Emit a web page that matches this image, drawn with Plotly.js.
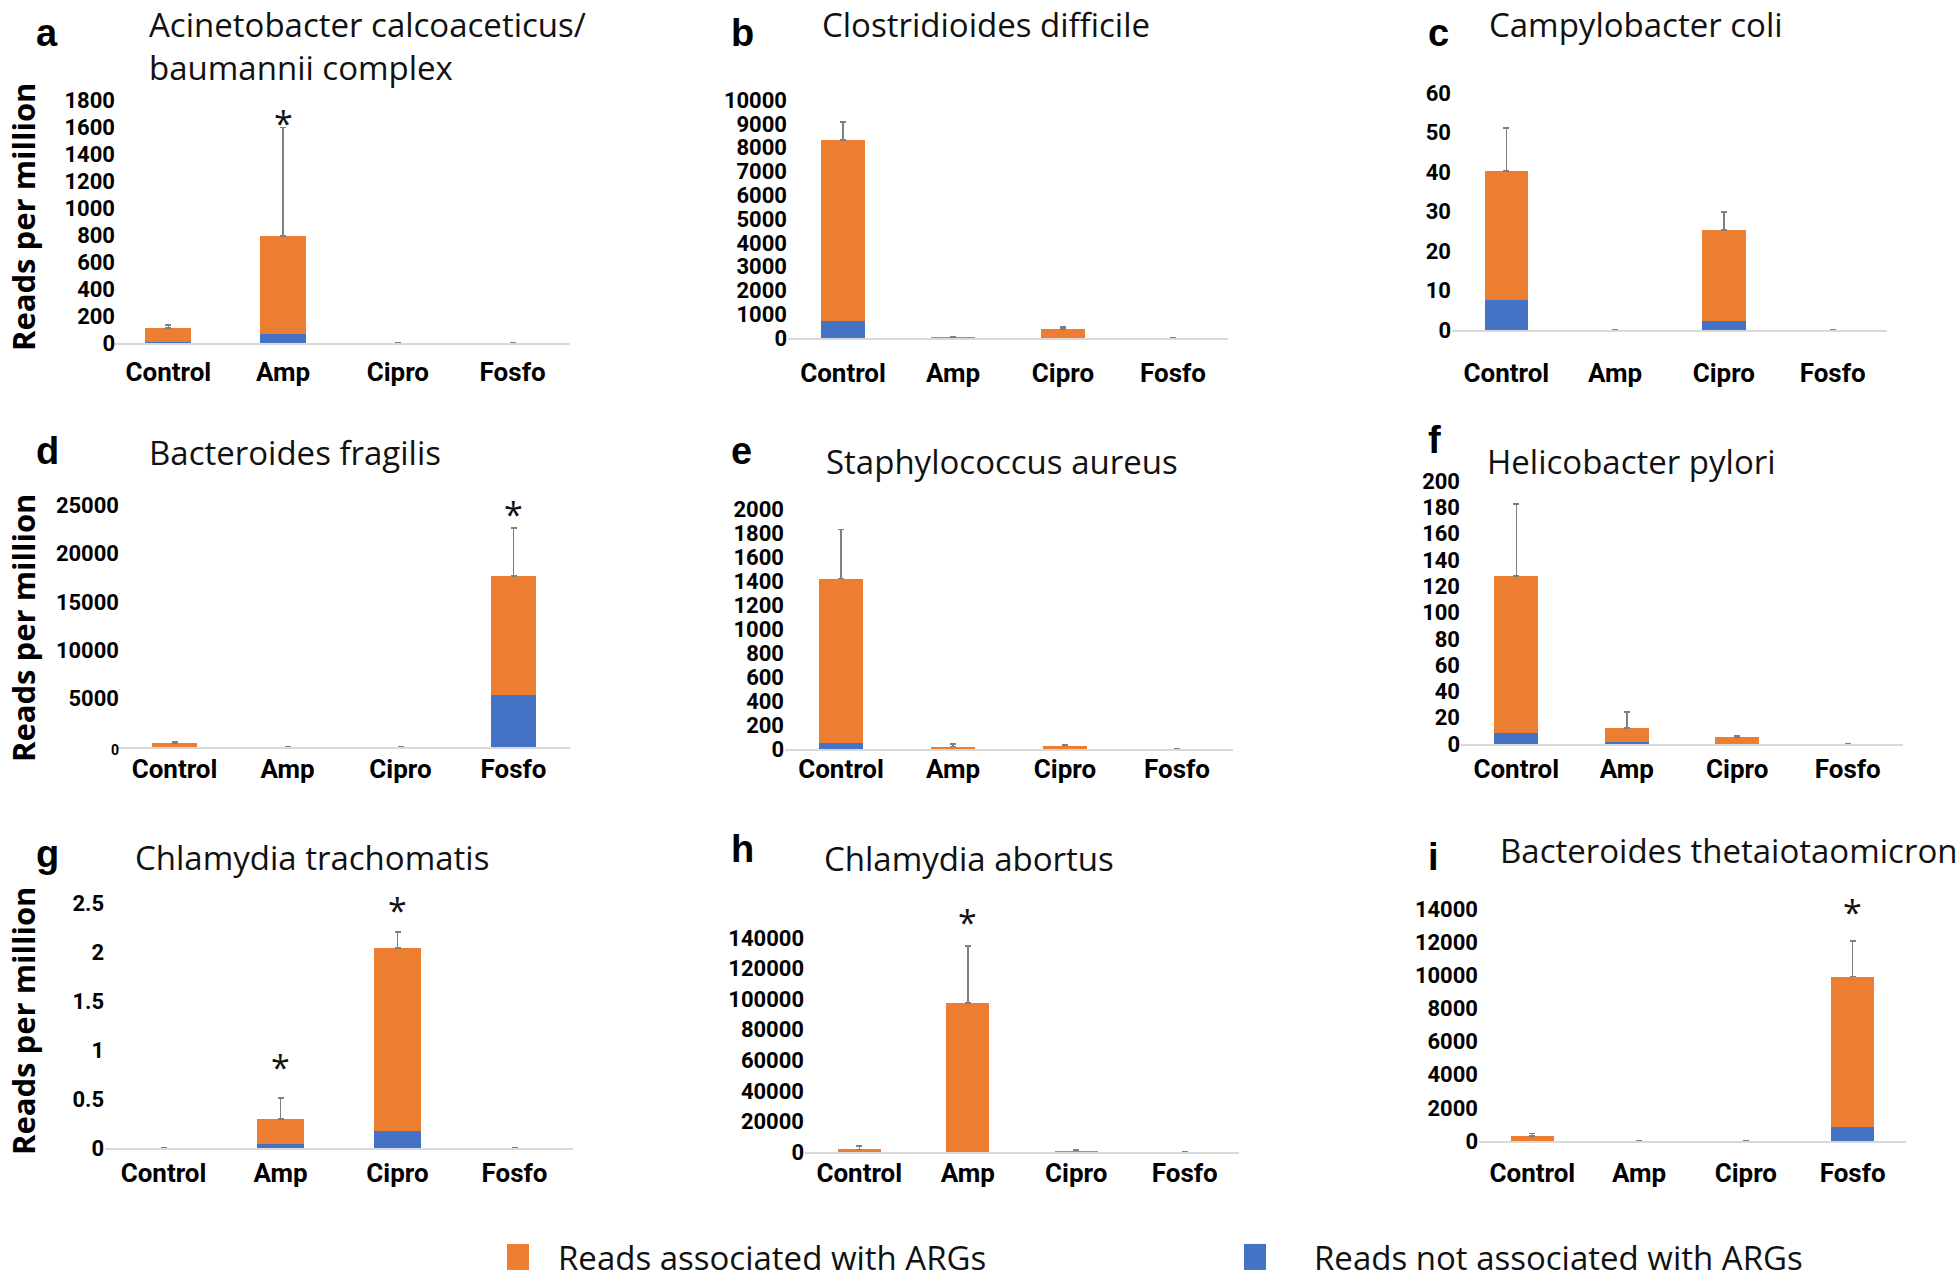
<!DOCTYPE html>
<html><head><meta charset="utf-8">
<script src="https://cdn.plot.ly/plotly-3.0.1.min.js"></script>
<style>html,body{margin:0;padding:0;background:#fff}#chart{width:1960px;height:1281px}</style>
</head><body><div id="chart"></div>
<script>
// ---------------- DATA ----------------
const categories = ['Control', 'Amp', 'Cipro', 'Fosfo'];
const panelLetters = ['a', 'b', 'c', 'd', 'e', 'f', 'g', 'h', 'i'];
const speciesNames = [
  'Acinetobacter calcoaceticus/<br>baumannii complex',
  'Clostridioides difficile',
  'Campylobacter coli',
  'Bacteroides fragilis',
  'Staphylococcus aureus',
  'Helicobacter pylori',
  'Chlamydia trachomatis',
  'Chlamydia abortus',
  'Bacteroides thetaiotaomicron'
];
const seriesNames = ['Reads associated with ARGs', 'Reads not associated with ARGs'];
const yAxisLabel = 'Reads per million';

// reads NOT associated with ARGs (blue, bottom segment)
const notARG_a = [5, 67, 0.5, 0.3];
const notARG_b = [714, 5, 20, 2];
const notARG_c = [7.6, 0, 2.3, 0];
const notARG_d = [20, 3, 2, 5372];
const notARG_e = [48, 2, 2, 0];
const notARG_f = [8.4, 1.5, 0.3, 0];
const notARG_g = [0.001, 0.041, 0.173, 0.001];
const notARG_h = [100, 200, 50, 10];
const notARG_i = [20, 3, 1, 841];

// reads associated with ARGs (orange, top segment)
const ARG_a = [108, 726, 1.5, 0.7];
const ARG_b = [7606, 30, 360, 8];
const ARG_c = [32.7, 0, 23, 0];
const ARG_d = [380, 17, 13, 12293];
const ARG_e = [1371, 18, 26, 0];
const ARG_f = [119.4, 10.7, 5, 0];
const ARG_g = [0.001, 0.255, 1.867, 0.001];
const ARG_h = [1666, 97276, 822, 40];
const ARG_i = [280, 27, 2, 9074];

// upper error (on total)
const err_a = [20, 802, 1, 0.5];
const err_b = [756, 30, 84, 5];
const err_c = [10.8, 0, 4.6, 0];
const err_d = [160, 10, 10, 4959];
const err_e = [412, 22, 6, 0];
const err_f = [54.7, 12.1, 0.8, 0];
const err_g = [0.002, 0.214, 0.163, 0.002];
const err_h = [2160, 37290, 430, 60];
const err_i = [163, 10, 2, 2163];

// significance markers (category names with *)
const sig_a = ['Amp'];
const sig_b = [];
const sig_c = [];
const sig_d = ['Fosfo'];
const sig_e = [];
const sig_f = [];
const sig_g = ['Amp', 'Cipro'];
const sig_h = ['Amp'];
const sig_i = ['Fosfo'];

// y axis tick settings
const yMax  = [1800, 10000, 60, 25000, 2000, 200, 2.5, 140000, 14000];
const yStep = [200, 1000, 10, 5000, 200, 20, 0.5, 20000, 2000];

// ---------------- LAYOUT CONFIG ----------------
const W = 1960, H = 1281;
const ORANGE = '#ED7D31', BLUE = '#4472C4', ERRC = '#7F7F7F';
const AXF = "Roboto, 'Liberation Sans', sans-serif";
const TITLEF = "'Open Sans', sans-serif";

const notARG = [notARG_a, notARG_b, notARG_c, notARG_d, notARG_e, notARG_f, notARG_g, notARG_h, notARG_i];
const ARG = [ARG_a, ARG_b, ARG_c, ARG_d, ARG_e, ARG_f, ARG_g, ARG_h, ARG_i];
const errs = [err_a, err_b, err_c, err_d, err_e, err_f, err_g, err_h, err_i];
const sigs = [sig_a, sig_b, sig_c, sig_d, sig_e, sig_f, sig_g, sig_h, sig_i];

// pixel geometry for each panel (plot area, label offsets, title anchors)
const geom = [
  {x0: 111, x1: 570, yT: 100, yB: 343, cat: 29, ys: -5, tx: 147, ty: null, lx: 34, lb: 45, star: [13]},
  {x0: 788, x1: 1228, yT: 100, yB: 338, cat: 35, ys: 0, tx: 820, ty: null, lx: 729, lb: 45, star: []},
  {x0: 1452, x1: 1887, yT: 93, yB: 330, cat: 43, ys: 0, tx: 1487, ty: null, lx: 1426, lb: 45, star: []},
  {x0: 118, x1: 570, yT: 505, yB: 747, cat: 22, ys: -2, tx: 147, ty: 453, lx: 34, lb: 463, star: [22]},
  {x0: 785, x1: 1233, yT: 509, yB: 749, cat: 20, ys: 0, tx: 824, ty: 462, lx: 729, lb: 463, star: []},
  {x0: 1461, x1: 1903, yT: 481, yB: 744, cat: 25, ys: 0, tx: 1485, ty: 462, lx: 1426, lb: 452, star: []},
  {x0: 105, x1: 573, yT: 903, yB: 1148, cat: 25, ys: 0, tx: 133, ty: 857, lx: 34, lb: 866, star: [39, 30]},
  {x0: 805, x1: 1239, yT: 938, yB: 1152, cat: 21, ys: 0, tx: 822, ty: 858, lx: 729, lb: 861, star: [32]},
  {x0: 1479, x1: 1906, yT: 909, yB: 1141, cat: 32, ys: 0, tx: 1498, ty: 850, lx: 1426, lb: 869, star: [37]}
];
const yTitleCenters = [217, 628, 1021];

const data = [];
const legendBase = {yanchor: 'middle', orientation: 'h', xanchor: 'left',
  font: {family: TITLEF, size: 33, color: '#111'}, bgcolor: 'rgba(0,0,0,0)', borderwidth: 0};
const layout = {
  width: W, height: H, autosize: false,
  margin: {l: 0, r: 0, t: 0, b: 0, autoexpand: false},
  paper_bgcolor: '#fff', plot_bgcolor: 'rgba(0,0,0,0)',
  barmode: 'stack', bargap: 0.6,
  showlegend: true,
  annotations: [],
  legend: Object.assign({}, legendBase, {x: 478 / W, y: 1 - 1257 / H, itemwidth: 70}),
  legend2: Object.assign({}, legendBase, {x: 1196 / W, y: 1 - 1257 / H, itemwidth: 108})
};

for (let p = 0; p < 9; p++) {
  const g = geom[p];
  const sfx = p === 0 ? '' : String(p + 1);
  const xa = 'x' + sfx, ya = 'y' + sfx;
  const totals = categories.map((c, i) => notARG[p][i] + ARG[p][i]);

  data.push({
    type: 'bar', x: categories, y: notARG[p], xaxis: xa, yaxis: ya,
    name: seriesNames[1], legend: 'legend2', showlegend: p === 0,
    marker: {color: BLUE, line: {width: 0}}, hoverinfo: 'y'
  });
  data.push({
    type: 'bar', x: categories, y: ARG[p], xaxis: xa, yaxis: ya,
    name: seriesNames[0], legend: 'legend', showlegend: p === 0,
    marker: {color: ORANGE, line: {width: 0}}, hoverinfo: 'y',
    error_y: {type: 'data', symmetric: false, array: errs[p], arrayminus: errs[p].map(() => 0),
              color: ERRC, thickness: 1.5, width: 3}
  });

  const tickvals = [];
  for (let v = 0; v <= yMax[p] + 1e-9; v += yStep[p]) tickvals.push(+v.toFixed(4));
  const ticktext = tickvals.map(v => (p === 3 && v === 0) ? '<span style="font-size:14px">0</span>' : String(v));

  layout['xaxis' + sfx] = {
    domain: [g.x0 / W, g.x1 / W], anchor: ya, type: 'category',
    range: [-0.5, 3.5], showline: true, linecolor: '#D9D9D9', linewidth: 1.5,
    ticks: '', showgrid: false, zeroline: false, fixedrange: true, automargin: false,
    tickfont: {family: AXF, size: 26, color: '#000', weight: 'bold'},
    ticklabelstandoff: g.cat - 24
  };
  layout['yaxis' + sfx] = {
    domain: [1 - g.yB / H, 1 - g.yT / H], anchor: xa, automargin: false,
    range: [0, yMax[p]], tickvals: tickvals, ticktext: ticktext,
    showline: false, showgrid: false, zeroline: false, ticks: '', fixedrange: true,
    tickfont: {family: AXF, size: 22, color: '#000', weight: 'bold'},
    ticklabelstandoff: g.ys
  };

  // species title (first row is anchored to the top edge)
  const titleFont = {family: TITLEF, size: 33, color: '#111'};
  layout.annotations.push({
    xref: 'paper', yref: 'paper', x: g.tx / W,
    y: g.ty === null ? 1 : 1 - g.ty / H,
    xanchor: 'left', yanchor: g.ty === null ? 'top' : 'middle', align: 'left',
    text: speciesNames[p], showarrow: false, font: titleFont
  });
  // panel letter
  layout.annotations.push({
    xref: 'paper', yref: 'paper', x: g.lx / W, y: 1 - (g.lb - 12) / H, xanchor: 'left', yanchor: 'middle',
    text: panelLetters[p], showarrow: false,
    font: {family: "'Liberation Sans', Arial, sans-serif", size: 38, color: '#000', weight: 'bold'}
  });
  // significance asterisks
  sigs[p].forEach((c, k) => {
    const i = categories.indexOf(c);
    layout.annotations.push({
      xref: xa, yref: ya, x: c, y: totals[i] + errs[p][i], xanchor: 'center', yanchor: 'middle',
      yshift: g.star[k] - 8, text: '*', showarrow: false,
      font: {family: TITLEF, size: 34, color: '#111'}
    });
  });
}

// y axis titles (one per row)
yTitleCenters.forEach(cy => {
  layout.annotations.push({
    xref: 'paper', yref: 'paper', x: 0, y: 1 - cy / H, xanchor: 'left', yanchor: 'middle',
    text: yAxisLabel, textangle: -90, showarrow: false,
    font: {family: TITLEF, size: 31, color: '#000', weight: 'bold'}
  });
});

Plotly.newPlot('chart', data, layout, {displayModeBar: false, staticPlot: true}).then(gd => {
  gd.querySelectorAll('.legendpoints path').forEach(pth => pth.setAttribute('d', 'M11,13H-11V-13H11Z'));
});
</script>
</body></html>
